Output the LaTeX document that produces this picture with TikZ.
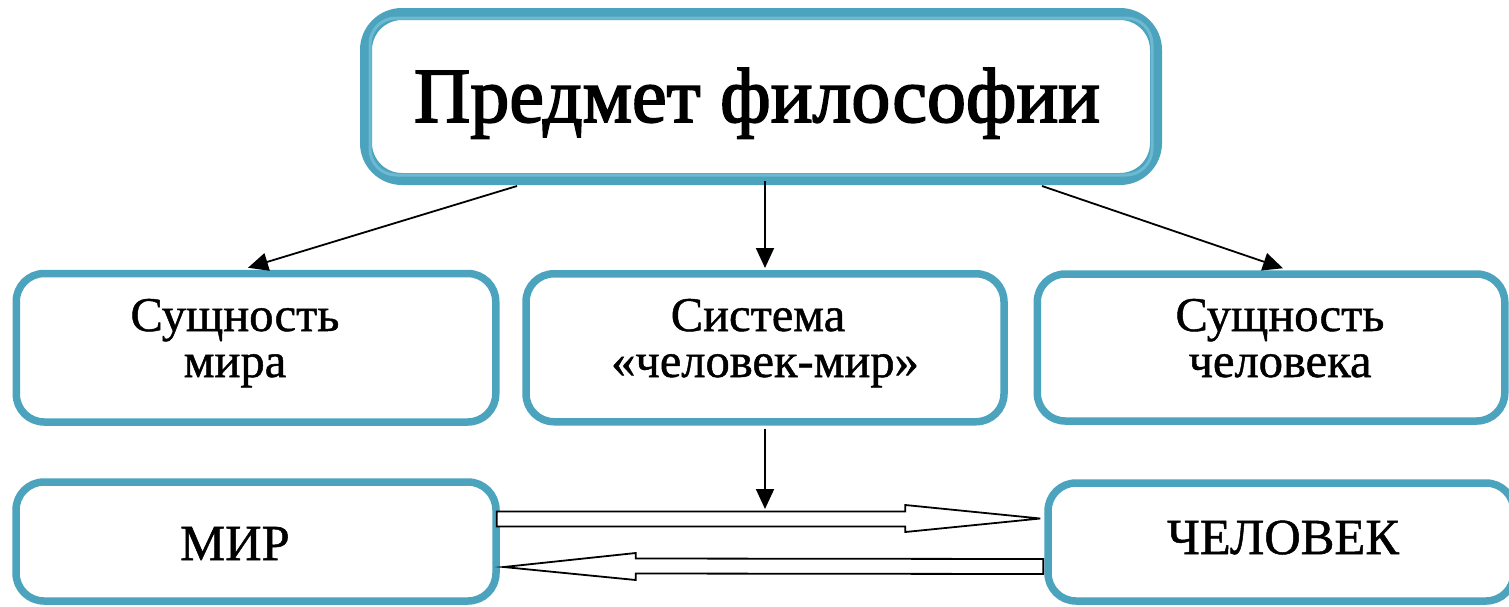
\documentclass[tikz,border=0pt]{standalone}
\usepackage{fontspec}
\setmainfont{Liberation Serif}
\newfontfamily\titlefont[FakeBold=2.2]{Liberation Serif}
\newfontfamily\boxfont[FakeBold=1]{Liberation Serif}
\usetikzlibrary{arrows.meta,calc}
\definecolor{frame}{RGB}{75,163,190}
\definecolor{framelight}{RGB}{110,185,210}
\begin{document}
\begin{tikzpicture}[x=1pt,y=-1pt,
  boxst/.style={draw=frame,line width=7.5pt,rounded corners=28pt,fill=white,inner sep=0pt},
  conn/.style={draw=black,line width=1.8pt,-{Triangle[length=20pt,width=18pt]}},
  dblarrow/.style={draw=black,line width=1.8pt,fill=white,line join=miter},
  lbl/.style={anchor=base,inner sep=0pt,font=\boxfont\fontsize{48.5}{52}\selectfont},
  big/.style={anchor=base,inner sep=0pt,font=\boxfont\fontsize{50.5}{54}\selectfont},
  title/.style={anchor=base,inner sep=0pt,font=\titlefont\fontsize{78}{84}\selectfont}]
\useasboundingbox (0,0) rectangle (1509,606);
\fill[white] (0,0) rectangle (1509,606);
% top box
\node[draw=frame,line width=12pt,rounded corners=36pt,minimum width=790pt,minimum height=165pt,inner sep=0pt] (top) at (761,96.5) {};
\draw[framelight,line width=3pt,rounded corners=26pt] ([xshift=10pt,yshift=-10pt]top.north west) rectangle ([xshift=-10pt,yshift=10pt]top.south east);
\node[title] (ttl) at (757,122) {Предмет философии};
% middle row
\node[boxst,minimum width=479.5pt,minimum height=148.5pt] (L) at (256,347.75) {};
\node[boxst,minimum width=478pt,minimum height=148pt] (M) at (765,347.75) {};
\node[boxst,minimum width=467.5pt,minimum height=147pt] (R) at (1271,347.5) {};
\node[lbl] (la) at (235,331) {Сущность};
\node[lbl] (lb) at (235,377) {мира};
\node[lbl] (ma) at (758,331) {Система};
\node[lbl] (mb) at (765,377) {«человек-мир»};
\node[lbl] (ra) at (1280,331) {Сущность};
\node[lbl] (rb) at (1280,377) {человека};
% bottom row
\node[boxst,minimum width=480pt,minimum height=119pt] (mir) at (256,541.5) {};
\node[boxst,minimum width=466pt,minimum height=118pt] (chel) at (1281,542) {};
\node[big] (mirt) at (235,560) {МИР};
\node[big] (chelt) at (1283,554) {ЧЕЛОВЕК};
% double arrows
\coordinate (ua) at ($(mir.east)+(-3,-22.5)$);
\coordinate (ub) at ($(chel.west)+(-4,-23.5)$);
\draw[dblarrow] ($(ua)+(0,-7.5)$) -- ($(ub)+(-135,-7)$) -- ($(ub)+(-135,-13.5)$) -- (ub) -- ($(ub)+(-135,13.5)$) -- ($(ub)+(-135,8)$) -- ($(ua)+(0,7.5)$) -- cycle;
\coordinate (la1) at ($(chel.west)+(-1,24.5)$);
\coordinate (lb1) at ($(mir.east)+(4,25.5)$);
\draw[dblarrow] ($(la1)+(0,-7.5)$) -- ($(lb1)+(132,-8.5)$) -- ($(lb1)+(132,-14)$) -- (lb1) -- ($(lb1)+(132,13)$) -- ($(lb1)+(132,6.5)$) -- ($(la1)+(0,7.5)$) -- cycle;
% connectors
\coordinate (mt) at ($(M.south |- ua)+(0,-10)$);
\draw[conn] ([xshift=-244pt,yshift=-1pt]top.south) -- ([xshift=-8pt,yshift=2pt]L.north);
\draw[conn] ([xshift=4pt,yshift=4pt]top.south) -- ([yshift=2pt]M.north);
\draw[conn] ([xshift=281pt,yshift=-1pt]top.south) -- ([xshift=12pt,yshift=2pt]R.north);
\draw[conn] ([yshift=-3pt]M.south) -- (mt);
\end{tikzpicture}
\end{document}
